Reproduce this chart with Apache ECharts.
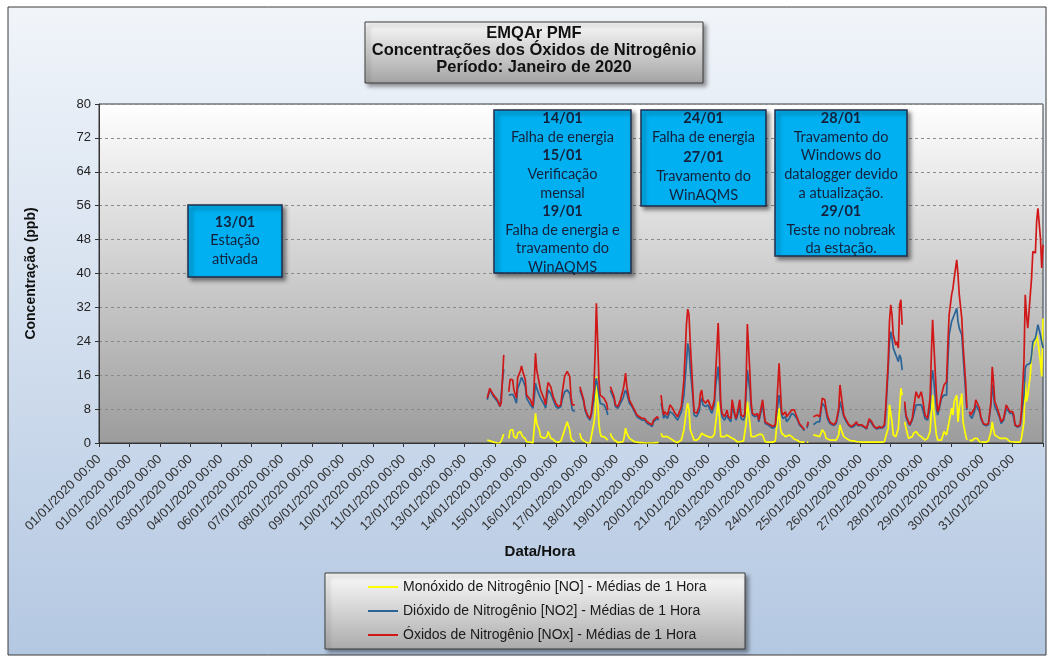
<!DOCTYPE html>
<html>
<head>
<meta charset="utf-8">
<title>EMQAr PMF - Óxidos de Nitrogênio</title>
<script src="https://cdn.jsdelivr.net/npm/echarts@6/dist/echarts.min.js"></script>
<style>
  html, body { margin: 0; padding: 0; background: #fff; }
  #chart { width: 1054px; height: 661px; }
</style>
</head>
<body>
<div id="chart"></div>
<script>
// Hours counted from the start of the axis (one tick = 24 h); null = gap in the record
const hours = [
  306, 308, 309, 311, 314, 316, 317, 319, 321,
  323, 324, 326, 327, 329, 330, 332, 333, 334, 336, 337, 340, 342, 343, 344, 345, 347, 348, 351, 352, 353, 354, 356, 358, 360, 362, 364, 365, 367, 369, 371, 372, 373, 375, 377,
  379, 380, 382, 383, 385, 387, 388, 390, 391, 392, 393, 394, 395, 396, 398, 400, 401, 402,
  403, 404, 406, 407, 409, 411, 413, 414, 415, 416, 418, 420, 422, 424, 426, 428, 430, 432, 434, 436, 437, 440, 441, 442,
  443, 444, 445, 446, 448, 450, 452, 454, 456, 457, 459, 461, 463, 464, 465, 466, 468, 469, 471, 473, 474, 475, 476, 477, 478, 480, 481, 483, 485, 486,
  488, 489, 490, 491, 493, 495, 496, 498, 499, 501, 502, 503, 505, 506, 508, 509, 510, 511, 513, 514, 515, 517, 519, 520, 521, 523, 525, 527, 529, 531,
  533, 534, 536, 537, 538, 539, 541, 542, 544, 546, 547, 548, 550, 552, 554, 556, 557, 558, 559, 561,
  563, 566, 568, 569, 570, 572, 573, 574, 576, 579, 581, 583, 584, 585, 587, 589, 591, 593, 595, 597, 598, 599, 601, 603, 605, 607, 609, 611, 613, 615,
  617, 619, 620, 622, 623, 624, 625, 626, 628, 629, 630, 631, 632, 633, 634,
  635, 636, 638, 639, 641, 642, 644, 645, 646, 648, 649, 651, 653, 655, 656, 657, 658, 660, 661, 662, 664, 666, 668, 669, 670, 672, 673, 674, 676, 677,
  678, 680, 681, 683, 684, 685,
  686, 687, 688, 690, 691, 692, 694, 695, 697, 699, 701, 703, 704, 705, 706, 708, 710, 711, 713, 715, 716, 718, 720, 721, 722, 724, 726, 727, 729, 730,
  731, 732, 734, 735, 736, 738, 739, 740, 742, 743, 744
];

const noValues = [
  0.7, 0.5, 0.3, 0.2, 0, 0, 0.5, 2.1, null,
  1.1, 3.0, 3.2, 1.5, 1.1, 2.3, 2.7, 2.3, 1.5, 1.0, 0.3, 0.2, 0, 3.5, 7.0, 4.6, 3.1, 1.5, 1.1, 0.8, 1.5, 2.7, 1.1, 0.8, 0.3, 0.2, 0.4, 0.7, 3.1, 5.0, 3.1, 1.1, 0.6, 0.3, null,
  2.3, 1.1, 0.5, 0.1, 0, 0, 0.2, 4.6, 7.0, 15.7, 10.2, 4.6, 2.3, 1.5, 1.5, 1.0, 0.7, null,
  2.3, 1.5, 0.7, 0.4, 0.1, 0.2, 0.3, 1.5, 3.5, 2.3, 1.1, 0.7, 0.3, 0.2, 0.1, 0.1, 0, 0, 0, 0, 0, 0.1, 0.1, null,
  2.3, 1.5, 1.5, 1.5, 1.5, 1.1, 0.7, 0.3, 0.1, 0.3, 0.7, 3.1, 7.8, 9.4, 7.8, 3.1, 1.5, 0.7, 0.7, 1.1, 1.5, 2.3, 2.0, 1.9, 1.7, 1.5, 1.5, 1.3, 2.0, 4.6,
  9.8, 6.2, 1.5, 1.3, 1.5, 1.9, 1.5, 1.3, 1.5, 0.8, 0.5, 0.3, 0.3, 0.3, 0.5, 0.7, 4.6, 9.8, 4.6, 1.5, 1.5, 1.5, 1.9, 1.7, 2.1, 1.9, 0.3, 0.2, 0.2, 0.2,
  0.5, 3.5, 8.2, 3.5, 2.3, 1.9, 1.5, 1.5, 1.9, 1.5, 1.1, 0.9, 0.7, 0.3, 0.2, 0.2, null, 0.2, 0.2, null,
  1.9, 1.7, 1.5, 2.3, 3.1, 2.3, 1.1, 0.9, 0.7, 0.7, 0.7, 1.9, 4.3, 3.1, 1.5, 1.1, 0.7, 0.5, 0.5, 0.3, 0.3, 0.3, 0.2, 0.2, 0.2, 0.2, 0.2, 0.2, 0.2, 0.2,
  0.2, 0.3, 1.5, 3.5, 9.0, 9.4, 5.0, 1.9, 1.5, 1.1, 3.5, 8.2, 12.9, 11.3, null,
  5.0, 3.5, 1.1, 1.1, 1.5, 2.3, 2.7, 2.3, 1.9, 1.5, 1.1, 0.7, 1.1, 2.7, 7.4, 11.3, 7.4, 1.9, 0.7, 0.7, 0.7, 2.7, 1.9, 3.5, 5.0, 8.2, 6.6, 9.8, 11.3, 5.0,
  8.2, 11.7, 5.0, 1.9, 0.7, null,
  0.7, 0.6, 0.5, 1.1, 1.5, 1.1, 0.3, 0.3, 0.2, 0.2, 0.5, 2.7, 5.0, 3.1, 1.9, 1.5, 1.1, 1.1, 1.1, 1.1, 0.7, 0.3, 0.3, 0.2, 0.2, 0.2, 0.2, 1.1, 5.0, 14.5,
  9.8, 11.3, 16.1, 20.8, 22.4, 23.9, 25.5, 23.9, 19.2, 15.7, 29.4
];

const no2Values = [
  10.2, 12.5, 12.0, 10.9, 9.8, 8.6, 9.0, 17.5, null,
  11.3, 11.7, 11.5, 11.0, 9.4, 12.9, 14.5, 15.5, 14.9, 13.3, 10.6, 9.0, 8.2, 10.6, 14.1, 12.9, 11.3, 10.6, 9.0, 8.2, 10.6, 12.5, 11.7, 10.2, 8.6, 8.2, 8.6, 10.2, 12.1, 12.5, 11.7, 9.8, 7.8, 7.4, null,
  12.5, 12.1, 9.8, 7.8, 6.2, 5.4, 6.6, 10.2, 13.3, 15.3, 13.3, 11.3, 9.4, 9.0, 9.0, 7.8, 6.6, null,
  12.5, 11.7, 10.2, 8.6, 8.2, 9.4, 10.6, 11.7, 12.5, 11.7, 9.4, 8.6, 7.4, 6.2, 5.8, 5.4, 5.4, 4.6, 4.3, 3.9, 5.0, 5.8, 5.4, null,
  9.4, 7.8, 5.8, 6.6, 5.8, 7.4, 7.0, 6.2, 5.4, 5.4, 7.4, 11.3, 19.0, 23.5, 22.0, 17.5, 11.0, 6.6, 6.2, 7.4, 9.8, 10.6, 9.0, 9.4, 8.6, 9.0, 8.2, 7.0, 9.0, 13.3,
  18.0, 14.1, 8.6, 6.2, 5.4, 6.6, 5.8, 5.0, 8.6, 6.6, 5.4, 6.2, 8.6, 5.8, 5.4, 6.2, 11.3, 17.2, 12.5, 8.2, 6.6, 6.2, 6.6, 5.0, 5.4, 9.0, 4.6, 4.3, 3.9, 3.5,
  3.9, 6.6, 11.3, 9.4, 6.6, 5.8, 6.2, 5.0, 5.8, 7.0, 7.0, 6.6, 5.8, 4.3, 3.7, 2.9, null, 3.5, 4.6, null,
  4.3, 5.0, 5.0, 7.4, 9.4, 8.6, 7.4, 5.8, 4.6, 4.1, 4.6, 7.4, 9.8, 8.6, 6.2, 5.0, 4.1, 3.7, 3.9, 4.6, 4.1, 3.7, 4.1, 3.7, 3.3, 5.4, 4.6, 3.7, 3.3, 3.5,
  3.5, 3.9, 6.6, 17.6, 23.9, 26.3, 24.7, 22.4, 20.8, 20.0, 19.2, 20.8, 20.0, 17.2, null,
  9.0, 6.2, 4.6, 4.1, 5.4, 6.6, 9.0, 9.4, 9.0, 9.0, 8.2, 5.8, 5.4, 8.2, 14.5, 17.2, 14.5, 8.2, 6.6, 7.8, 10.6, 11.3, 11.3, 19.2, 25.5, 28.7, 29.4, 30.2, 31.8, 28.7,
  27.1, 25.5, 20.8, 12.1, 7.8, null,
  6.6, 6.2, 5.8, 7.4, 9.0, 9.4, 7.4, 5.8, 4.4, 4.1, 4.3, 9.0, 13.7, 11.3, 8.6, 7.4, 5.8, 4.6, 5.4, 8.2, 8.2, 7.0, 7.0, 5.8, 4.1, 3.7, 4.1, 6.6, 11.3, 17.6,
  18.4, 18.8, 18.8, 20.8, 23.9, 24.7, 26.3, 27.9, 25.5, 23.9, 22.4
];

const noxValues = [
  10.6, 12.9, 12.7, 11.3, 10.2, 8.7, 9.4, 20.8, null,
  12.1, 15.0, 14.9, 12.5, 10.6, 15.5, 16.9, 18.2, 16.9, 14.9, 11.3, 10.2, 8.6, 14.1, 21.2, 17.2, 14.1, 12.5, 10.2, 9.0, 12.5, 14.3, 13.3, 10.9, 9.4, 8.6, 9.0, 11.7, 15.7, 16.9, 15.7, 10.9, 9.0, 9.0, null,
  13.3, 12.9, 10.2, 8.2, 6.6, 5.8, 7.0, 12.5, 21.2, 33.0, 24.3, 14.9, 11.3, 10.9, 10.6, 9.4, 7.8, null,
  13.3, 12.5, 10.9, 9.0, 8.6, 10.2, 12.5, 14.1, 16.5, 13.3, 10.2, 9.0, 7.8, 6.6, 6.2, 5.8, 5.8, 5.0, 4.6, 4.3, 5.4, 6.2, 5.8, null,
  11.3, 8.6, 6.6, 7.4, 6.6, 9.0, 8.2, 7.0, 6.2, 6.2, 8.6, 14.9, 28.0, 31.6, 30.2, 23.5, 12.5, 7.4, 7.0, 8.6, 11.7, 12.5, 10.2, 10.6, 9.4, 10.2, 9.4, 7.8, 10.2, 16.5,
  28.3, 20.4, 9.4, 7.0, 6.2, 7.8, 6.2, 5.8, 10.2, 7.0, 5.8, 7.0, 10.2, 6.6, 6.2, 7.0, 14.1, 28.1, 16.5, 9.4, 7.0, 6.6, 7.0, 5.4, 5.8, 10.2, 5.0, 4.6, 4.3, 3.9,
  4.3, 8.2, 18.8, 12.9, 7.4, 6.6, 7.4, 6.2, 7.0, 7.8, 8.2, 7.8, 6.2, 4.6, 3.9, 3.1, null, 3.9, 5.0, null,
  6.2, 6.6, 6.2, 8.2, 10.6, 10.2, 8.2, 6.6, 5.0, 4.3, 5.0, 8.2, 13.7, 11.3, 6.6, 5.4, 4.3, 3.9, 4.3, 5.0, 4.3, 3.9, 4.3, 3.9, 3.5, 5.7, 5.0, 3.9, 3.5, 3.9,
  3.6, 4.3, 8.2, 19.2, 28.7, 32.6, 30.2, 25.5, 23.1, 23.9, 22.4, 32.6, 33.8, 27.9, null,
  9.8, 6.6, 5.0, 4.3, 5.8, 8.2, 12.1, 11.3, 10.6, 12.1, 10.6, 6.6, 5.8, 10.6, 20.8, 29.1, 23.1, 11.3, 7.4, 8.2, 11.3, 13.7, 14.5, 23.1, 30.2, 35.0, 36.5, 38.9, 43.2, 39.7,
  35.0, 29.4, 23.1, 14.5, 8.2, null,
  7.4, 6.6, 6.2, 8.2, 10.2, 10.6, 8.2, 6.2, 4.6, 4.3, 4.6, 9.8, 18.0, 14.5, 9.8, 8.2, 6.2, 5.0, 5.8, 9.0, 9.4, 7.4, 7.4, 6.6, 4.3, 3.9, 4.3, 7.4, 19.2, 35.0,
  30.2, 27.1, 35.0, 38.9, 45.2, 44.8, 52.3, 55.4, 48.3, 41.3, 46.8
];

const xTickLabels = [
  '01/01/2020 00:00', '01/01/2020 00:00', '02/01/2020 00:00', '03/01/2020 00:00', '04/01/2020 00:00',
  '06/01/2020 00:00', '07/01/2020 00:00', '08/01/2020 00:00', '09/01/2020 00:00', '10/01/2020 00:00',
  '11/01/2020 00:00', '12/01/2020 00:00', '13/01/2020 00:00', '14/01/2020 00:00', '15/01/2020 00:00',
  '16/01/2020 00:00', '17/01/2020 00:00', '18/01/2020 00:00', '19/01/2020 00:00', '20/01/2020 00:00',
  '21/01/2020 00:00', '22/01/2020 00:00', '23/01/2020 00:00', '24/01/2020 00:00', '25/01/2020 00:00',
  '26/01/2020 00:00', '27/01/2020 00:00', '28/01/2020 00:00', '29/01/2020 00:00', '30/01/2020 00:00',
  '31/01/2020 00:00'
];

const seriesNames = [
  'Monóxido de Nitrogênio [NO] - Médias de 1 Hora',
  'Dióxido de Nitrogênio [NO2] - Médias de 1 Hora',
  'Óxidos de Nitrogênio [NOx] - Médias de 1 Hora'
];

const titleLines = ['EMQAr PMF', 'Concentrações dos Óxidos de Nitrogênio', 'Período: Janeiro de 2020'];

const noteActivated = ['13/01', 'Estação', 'ativada'];
const noteJan14 = ['14/01', 'Falha de energia', '15/01', 'Verificação', 'mensal', '19/01', 'Falha de energia e', 'travamento do', 'WinAQMS'];
const noteJan24 = ['24/01', 'Falha de energia', '27/01', 'Travamento do', 'WinAQMS'];
const noteJan28 = ['28/01', 'Travamento do', 'Windows do', 'datalogger devido', 'a atualização.', '29/01', 'Teste no nobreak', 'da estação.'];

const FONT = '"Liberation Sans", Arial, sans-serif';

function vGradient(top, bottom) {
    return new echarts.graphic.LinearGradient(0, 0, 0, 1, [
        { offset: 0, color: top }, { offset: 1, color: bottom }
    ]);
}

// cyan annotation box, one text element per line, dates in bold
function noteBox(x, y, w, h, lines, firstY, step) {
    const children = [{
        type: 'rect', z: 100,
        shape: { x: 0, y: 0, width: w, height: h },
        style: {
            fill: '#00b0f0', stroke: '#1f2d4a', lineWidth: 1.5,
            shadowBlur: 4, shadowOffsetX: 3, shadowOffsetY: 3, shadowColor: 'rgba(0,0,0,0.45)'
        }
    }];
    lines.forEach((t, i) => {
        const isDate = /^\d\d\/\d\d$/.test(t);
        children.push({
            type: 'text', z: 101,
            style: {
                text: t, x: w / 2, y: firstY + i * step,
                align: 'center', verticalAlign: 'middle',
                font: (isDate ? 'bold ' : '') + '14.5px Lato, sans-serif',
                fill: '#14213d'
            }
        });
    });
    return { type: 'group', x: x, y: y, children: children };
}

const chart = echarts.init(document.getElementById('chart'), null, { renderer: 'canvas' });

const colors = ['#ffff00', '#2b6496', '#d01818'];
const valueSets = [noValues, no2Values, noxValues];

chart.setOption({
    animation: false,
    backgroundColor: '#ffffff',
    textStyle: { fontFamily: FONT },
    grid: {
        left: 99, top: 104, width: 944, height: 339,
        show: true,
        backgroundColor: vGradient('#ffffff', '#9c9c9c'),
        borderColor: '#3a3a3a', borderWidth: 1
    },
    legend: {
        data: seriesNames,
        orient: 'vertical',
        left: 363, top: 575,
        icon: 'rect',
        itemWidth: 30, itemHeight: 2, itemGap: 10, itemTextGap: 3,
        textStyle: { fontFamily: FONT, fontSize: 14, color: '#1a1a1a' }
    },
    xAxis: {
        type: 'value', min: 0, max: 744, interval: 24,
        axisLine: { show: true, lineStyle: { color: '#333', width: 1 } },
        axisTick: { show: true, length: 4, lineStyle: { color: '#333' } },
        splitLine: { show: false },
        axisLabel: {
            rotate: 45, margin: 14,
            fontFamily: FONT, fontSize: 13, color: '#333',
            formatter: v => xTickLabels[Math.round(v / 24)] || ''
        }
    },
    yAxis: {
        type: 'value', min: 0, max: 80, interval: 8,
        name: 'Concentração (ppb)',
        nameLocation: 'middle', nameGap: 61,
        nameTextStyle: { fontFamily: FONT, fontSize: 14, fontWeight: 'bold', color: '#111' },
        axisLine: { show: true, lineStyle: { color: '#333' } },
        axisTick: { show: true, length: 4, lineStyle: { color: '#333' } },
        axisLabel: { fontFamily: FONT, fontSize: 13, color: '#222', margin: 8 },
        splitLine: { show: true, lineStyle: { color: '#8a8a8a', type: [3, 3], width: 1 } }
    },
    series: seriesNames.map((name, k) => ({
        name: name,
        type: 'line',
        symbol: 'none',
        connectNulls: false,
        data: hours.map((h, i) => [h, valueSets[k][i]]),
        lineStyle: { color: colors[k], width: 1.7 },
        itemStyle: { color: colors[k] }
    })),
    graphic: [
        {   // chart area frame
            type: 'rect', z: -1,
            shape: { x: 8, y: 7, width: 1038, height: 648 },
            style: { fill: vGradient('#f1f5fa', '#b4c8e2'), stroke: '#3a3a3a', lineWidth: 1 }
        },
        {   // title box
            type: 'group', x: 365, y: 22,
            children: [{
                type: 'rect', z: 100,
                shape: { x: 0, y: 0, width: 338, height: 61 },
                style: {
                    fill: vGradient('#fafafa', '#a3a3a3'), stroke: '#3a3a3a', lineWidth: 1,
                    shadowBlur: 4, shadowOffsetX: 3, shadowOffsetY: 3, shadowColor: 'rgba(0,0,0,0.4)'
                }
            }].concat(titleLines.map((t, i) => ({
                type: 'text', z: 101,
                style: {
                    text: t, x: 169, y: 11 + i * 17,
                    align: 'center', verticalAlign: 'middle',
                    font: 'bold 16.5px ' + FONT, fill: '#111'
                }
            })))
        },
        {   // legend box
            type: 'rect', z: 1,
            shape: { x: 325, y: 573, width: 420, height: 76 },
            style: {
                fill: vGradient('#fbfbfb', '#ababab'), stroke: '#3a3a3a', lineWidth: 1,
                shadowBlur: 4, shadowOffsetX: 3, shadowOffsetY: 3, shadowColor: 'rgba(0,0,0,0.4)'
            }
        },
        {   // x axis title
            type: 'text', z: 5,
            style: {
                text: 'Data/Hora', x: 540, y: 552,
                align: 'center', verticalAlign: 'middle',
                font: 'bold 15px ' + FONT, fill: '#111'
            }
        },
        noteBox(188, 205, 94, 72, noteActivated, 17, 18.5),
        noteBox(494, 110, 137, 163, noteJan14, 8.5, 18.6),
        noteBox(641, 110, 125, 96, noteJan24, 8.5, 19.3),
        noteBox(775, 110, 132, 146, noteJan28, 8.5, 18.6)
    ]
});
</script>
</body>
</html>
